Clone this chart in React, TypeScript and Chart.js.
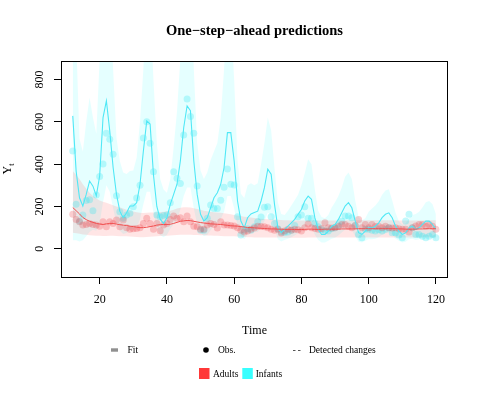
import React, { useEffect, useRef } from 'react';
import { Chart, registerables } from 'chart.js';

Chart.register(...registerables);

// ---------- data (time in months) ----------
const firstTime = 12;
const time: number[] = Array.from({ length: 109 }, (_, i) => firstTime + i);

const xTicks = [20, 40, 60, 80, 100, 120];
const yTicks = [0, 200, 400, 600, 800];

const infantsFit = [
  628, 367, 241, 202, 257, 320, 296, 250, 344, 620,
  699, 557, 384, 257, 178, 147, 170, 202, 202, 218,
  305, 462, 604, 589, 350, 200, 140, 120, 147, 210,
  257, 305, 415, 573, 675, 652, 415, 257, 163, 131,
  147, 194, 241, 265, 305, 384, 549, 549, 415, 226,
  131, 99, 147, 165, 172, 178, 226, 289, 376, 352,
  210, 99, 76, 92, 107, 123, 139, 163, 186, 226,
  249, 234, 147, 92, 68, 68, 84, 107, 115, 139,
  170, 202, 218, 194, 131, 76, 68, 84, 99, 99,
  107, 123, 147, 163, 170, 147, 107, 84, 68, 76,
  99, 107, 92, 99, 115, 131, 131, 115, 92,
];

const infantsUpper = [
  1100, 1000, 520, 460, 600, 715, 620, 543, 900, 1300,
  1400, 1200, 850, 525, 415, 360, 353, 368, 370, 431,
  600, 850, 1200, 1150, 800, 500, 330, 280, 265, 330,
  480, 650, 900, 1200, 1300, 1250, 850, 500, 370, 330,
  360, 420, 460, 500, 620, 850, 1150, 1100, 800, 420,
  260, 240, 300, 310, 300, 310, 400, 500, 620, 560,
  380, 220, 165, 160, 180, 205, 230, 255, 300, 357,
  423, 400, 280, 180, 150, 145, 160, 195, 220, 250,
  290, 340, 360, 330, 230, 150, 135, 145, 175, 190,
  205, 225, 255, 275, 281, 230, 170, 130, 115, 120,
  145, 160, 165, 175, 195, 220, 226, 210, 165,
];

const infantsLower = [
  40, 40, 35, 40, 60, 80, 90, 85, 120, 220,
  300, 270, 190, 120, 85, 70, 75, 90, 95, 100,
  140, 210, 270, 270, 170, 95, 65, 55, 65, 95,
  115, 140, 185, 250, 290, 290, 190, 115, 75, 60,
  65, 88, 110, 120, 140, 175, 250, 250, 190, 105,
  60, 45, 65, 75, 78, 80, 100, 130, 170, 160,
  95, 45, 35, 42, 48, 55, 63, 74, 84, 100,
  112, 105, 66, 42, 30, 30, 38, 48, 52, 63,
  77, 90, 98, 88, 60, 34, 30, 38, 45, 45,
  48, 55, 66, 73, 77, 66, 48, 38, 30, 34,
  45, 48, 42, 45, 52, 60, 60, 52, 42,
];

const infantsObs = [
  462, 210, 130, 160, 228, 232, 180, 254, 342, 401,
  546, 518, 447, 251, 175, 145, 160, 168, 199, 240,
  300, 523, 600, 499, 364, 160, 152, 158, 160, 218,
  364, 333, 309, 538, 707, 625, 546, 297, 88, 88,
  144, 207, 191, 191, 230, 291, 377, 305, 301, 152,
  65, 88, 95, 88, 104, 128, 150, 196, 199, 152,
  120, 95, 80, 77, 80, 88, 110, 152, 160, 199,
  144, 144, 120, 104, 90, 84, 84, 95, 100, 110,
  130, 155, 155, 147, 110, 68, 52, 92, 92, 88,
  84, 90, 84, 92, 100, 76, 76, 65, 52, 131,
  163, 99, 68, 68, 60, 52, 60, 68, 52,
];

const adultsFit = [
  195, 180, 165, 148, 138, 130, 125, 120, 117, 115,
  118, 120, 120, 117, 114, 112, 110, 107, 105, 102,
  100, 100, 102, 105, 108, 112, 114, 115, 115, 116,
  120, 125, 130, 132, 134, 133, 130, 127, 124, 122,
  120, 118, 117, 116, 115, 113, 111, 109, 108, 107,
  105, 103, 101, 100, 99, 98, 97, 96, 95, 94,
  94, 93, 93, 92, 92, 92, 91, 91, 91, 92,
  93, 93, 92, 92, 92, 93, 93, 93, 93, 93,
  94, 94, 94, 94, 94, 95, 95, 95, 95, 95,
  95, 95, 95, 95, 95, 95, 95, 94, 94, 93,
  93, 93, 93, 94, 94, 95, 95, 95, 95,
];

const adultsUpper = [
  367, 350, 330, 305, 285, 265, 250, 238, 228, 222,
  218, 212, 206, 200, 196, 190, 185, 180, 176, 173,
  170, 169, 170, 171, 172, 173, 174, 175, 177, 180,
  185, 190, 194, 196, 196, 195, 192, 188, 184, 180,
  177, 175, 173, 171, 170, 168, 166, 163, 160, 157,
  155, 152, 150, 148, 146, 144, 142, 141, 140, 139,
  138, 137, 136, 135, 135, 134, 134, 134, 134, 134,
  135, 135, 134, 134, 134, 134, 134, 134, 134, 134,
  135, 135, 135, 135, 135, 135, 135, 135, 135, 135,
  135, 135, 135, 135, 135, 135, 135, 134, 134, 134,
  134, 134, 134, 134, 134, 135, 135, 135, 135,
];

const adultsLower = [
  76, 74, 71, 68, 66, 64, 63, 62, 62, 61,
  61, 62, 62, 61, 60, 60, 59, 58, 57, 56,
  55, 55, 56, 57, 58, 60, 61, 62, 62, 63,
  64, 65, 66, 66, 66, 66, 65, 65, 64, 64,
  63, 63, 62, 62, 61, 60, 60, 59, 59, 58,
  57, 56, 55, 55, 54, 54, 54, 54, 53, 53,
  53, 53, 53, 52, 52, 52, 52, 52, 52, 52,
  53, 53, 53, 53, 53, 53, 53, 53, 53, 53,
  54, 54, 54, 54, 54, 54, 54, 54, 54, 54,
  54, 54, 54, 54, 54, 54, 54, 54, 54, 53,
  53, 53, 53, 53, 53, 54, 54, 54, 54,
];

const adultsObs = [
  163, 138, 128, 112, 115, 120, 115, 112, 107, 128,
  104, 128, 120, 136, 104, 136, 100, 92, 95, 96,
  100, 120, 144, 120, 92, 120, 85, 112, 120, 139,
  155, 144, 147, 128, 155, 128, 107, 104, 92, 92,
  112, 120, 115, 98, 128, 112, 112, 110, 108, 100,
  88, 80, 84, 92, 98, 107, 105, 104, 100, 92,
  88, 92, 75, 84, 92, 88, 92, 90, 84, 100,
  117, 100, 96, 92, 96, 123, 100, 98, 100, 106,
  115, 115, 107, 100, 110, 139, 100, 115, 100, 115,
  105, 107, 100, 107, 100, 98, 100, 95, 92, 92,
  80, 100, 108, 115, 115, 107, 115, 107, 92,
];

// ---------- styles ----------
const FONT = '"Liberation Serif", "DejaVu Serif", serif';
const RED_LINE = 'rgb(240, 80, 80)';
const CYAN_LINE = 'rgb(80, 232, 246)';
const RED_PT = 'rgba(235, 60, 70, 0.26)';
const CYAN_PT = 'rgba(40, 230, 240, 0.28)';
const RED_BAND = 'rgba(255, 0, 0, 0.10)';
const CYAN_BAND = 'rgba(0, 255, 255, 0.10)';

export default function App() {
  const ref = useRef<HTMLCanvasElement>(null);

  useEffect(() => {
    const canvas = ref.current;
    if (!canvas) return;
    const xy = (vals: number[]) => time.map((t, i) => ({ x: t, y: vals[i] }));

    const decor = {
      id: 'decor',
      afterDraw(chart: any) {
        const ctx = chart.ctx as CanvasRenderingContext2D;
        const ca = chart.chartArea;
        ctx.save();
        // box
        ctx.strokeStyle = '#000';
        ctx.lineWidth = 1;
        ctx.strokeRect(ca.left + 0.5, ca.top + 0.5, ca.right - ca.left - 1, ca.bottom - ca.top);
        ctx.fillStyle = '#000';
        // title
        ctx.font = `bold 14.5px ${FONT}`;
        ctx.textAlign = 'center';
        ctx.textBaseline = 'middle';
        ctx.fillText('One\u2212step\u2212ahead predictions', (ca.left + ca.right) / 2, 31);
        // x title
        ctx.font = `12px ${FONT}`;
        ctx.fillText('Time', (ca.left + ca.right) / 2, 331);
        // y tick labels (rotated)
        const ys = chart.scales.y;
        ys.ticks.forEach((t: any) => {
          const py = ys.getPixelForValue(t.value);
          ctx.save();
          ctx.translate(40, py);
          ctx.rotate(-Math.PI / 2);
          ctx.textAlign = 'center';
          ctx.textBaseline = 'middle';
          ctx.font = `12px ${FONT}`;
          ctx.fillText(String(t.value), 0, 0);
          ctx.restore();
        });
        // y title Y_t
        ctx.save();
        ctx.translate(8, (ca.top + ca.bottom) / 2);
        ctx.rotate(-Math.PI / 2);
        ctx.textBaseline = 'middle';
        ctx.textAlign = 'left';
        ctx.font = `12px ${FONT}`;
        const wY = ctx.measureText('Y').width;
        ctx.font = `8px ${FONT}`;
        const wt = ctx.measureText('t').width;
        const x0 = -(wY + wt) / 2;
        ctx.font = `12px ${FONT}`;
        ctx.fillText('Y', x0, 0);
        ctx.font = `8px ${FONT}`;
        ctx.fillText('t', x0 + wY, 4);
        ctx.restore();
        // legend row 1
        ctx.font = `9.5px ${FONT}`;
        ctx.textAlign = 'left';
        ctx.textBaseline = 'middle';
        ctx.fillStyle = '#b0b0b0';
        ctx.fillRect(111, 348, 7, 4);
        ctx.strokeStyle = '#707070';
        ctx.beginPath();
        ctx.moveTo(111, 350);
        ctx.lineTo(118, 350);
        ctx.stroke();
        ctx.fillStyle = '#000';
        ctx.fillText('Fit', 127.5, 350);
        ctx.beginPath();
        ctx.arc(206, 350, 2.8, 0, Math.PI * 2);
        ctx.fill();
        ctx.fillText('Obs.', 218, 350);
        ctx.strokeStyle = '#555';
        ctx.beginPath();
        ctx.moveTo(293, 350.5);
        ctx.lineTo(295.5, 350.5);
        ctx.moveTo(298, 350.5);
        ctx.lineTo(300.5, 350.5);
        ctx.stroke();
        ctx.fillText('Detected changes', 309, 350);
        // legend row 2
        ctx.fillStyle = 'rgb(255, 56, 56)';
        ctx.fillRect(199, 368, 10.5, 11);
        ctx.fillStyle = 'rgb(56, 255, 255)';
        ctx.fillRect(242.3, 368, 10.5, 11);
        ctx.fillStyle = '#000';
        ctx.fillText('Adults', 213, 374);
        ctx.fillText('Infants', 255.7, 374);
        ctx.restore();
      },
    };

    const band = (label: string, vals: number[], color: string, fill: any, order: number) => ({
      label,
      data: xy(vals),
      borderWidth: 0,
      borderColor: 'transparent',
      pointRadius: 0,
      backgroundColor: color,
      fill,
      tension: 0,
      order,
    });

    const chart = new Chart(canvas, {
      type: 'line',
      data: {
        datasets: [
          { label: 'Adults fit', data: xy(adultsFit), borderColor: RED_LINE, borderWidth: 1, pointRadius: 0, fill: false, tension: 0, order: 0 },
          { label: 'Infants fit', data: xy(infantsFit), borderColor: CYAN_LINE, borderWidth: 1.1, pointRadius: 0, fill: false, tension: 0, order: 0 },
          { label: 'Adults obs', data: xy(adultsObs), showLine: false, pointRadius: 3.5, pointBackgroundColor: RED_PT, pointBorderColor: 'transparent', pointBorderWidth: 0, borderColor: 'transparent', order: 1 },
          { label: 'Infants obs', data: xy(infantsObs), showLine: false, pointRadius: 3.5, pointBackgroundColor: CYAN_PT, pointBorderColor: 'transparent', pointBorderWidth: 0, borderColor: 'transparent', order: 1 },
          band('Adults upper', adultsUpper, RED_BAND, '+1', 2),
          band('Adults lower', adultsLower, RED_BAND, false, 2),
          band('Infants upper', infantsUpper, CYAN_BAND, '+1', 3),
          band('Infants lower', infantsLower, CYAN_BAND, false, 3),
        ] as any,
      },
      options: {
        animation: false,
        responsive: false,
        devicePixelRatio: 1,
        events: [],
        layout: { padding: { top: 61, right: 33, left: 0, bottom: 0 } },
        plugins: {
          legend: { display: false },
          tooltip: { enabled: false },
          title: { display: false },
        },
        scales: {
          x: {
            type: 'linear',
            min: 8.5,
            max: 123.6,
            afterBuildTicks: (s: any) => { s.ticks = xTicks.map((v) => ({ value: v })); },
            afterFit: (s: any) => { s.height = 124; },
            grid: { drawOnChartArea: false, drawTicks: true, tickLength: 7, color: '#000', tickColor: '#000', lineWidth: 1 },
            border: { display: false },
            ticks: { font: { family: FONT, size: 12 }, color: '#000', padding: 9, maxRotation: 0, autoSkip: false },
          },
          y: {
            type: 'linear',
            min: -133,
            max: 887,
            afterBuildTicks: (s: any) => { s.ticks = yTicks.map((v) => ({ value: v })); },
            afterFit: (s: any) => { s.width = 61; },
            grid: { drawOnChartArea: false, drawTicks: true, tickLength: 7, color: '#000', tickColor: '#000', lineWidth: 1 },
            border: { display: false },
            ticks: { display: false },
          },
        },
      } as any,
      plugins: [decor],
    });

    return () => chart.destroy();
  }, []);

  return (
    <div style={{ position: 'fixed', left: 0, top: 0, width: 481, height: 401, background: '#fff' }}>
      <canvas ref={ref} width={481} height={401} style={{ display: 'block', width: 481, height: 401 }} />
    </div>
  );
}
